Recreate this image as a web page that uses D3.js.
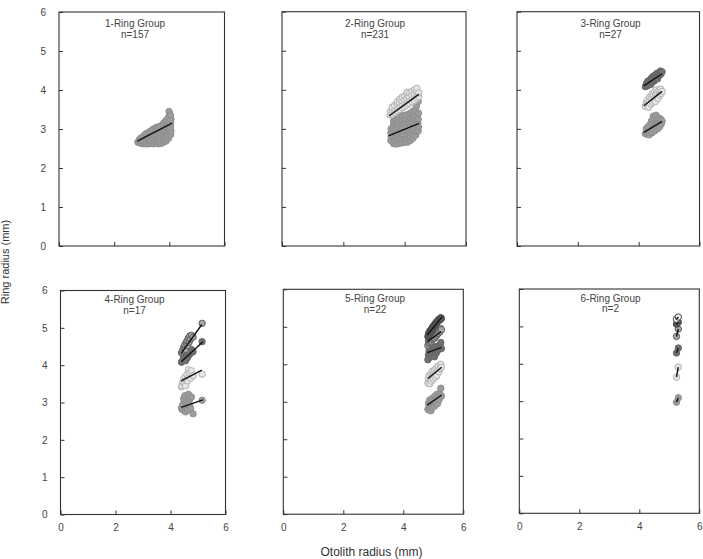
<!DOCTYPE html>
<html><head><meta charset="utf-8">
<script src="https://cdn.jsdelivr.net/npm/d3@7"></script>
<style>body{margin:0;background:#fff}svg{display:block;font-family:"Liberation Sans",Arial,sans-serif}</style>
</head><body><svg id="c" width="703" height="559"></svg>
<script>
// ---------- DATA ----------
const titles = ["1-Ring Group","2-Ring Group","3-Ring Group","4-Ring Group","5-Ring Group","6-Ring Group"];
const nLabels = ["n=157","n=231","n=27","n=17","n=22","n=2"];
const xTicks = [0,2,4,6];
const yTicks = [0,1,2,3,4,5,6];
const xTitle = "Otolith radius (mm)";
const yTitle = "Ring radius (mm)";

// 1-Ring group: [otolith radius, ring-1 radius]
const g1_ring1 = [[2.86,2.66],[2.90,2.66],[2.91,2.72],
 [2.98,2.63],[2.99,2.70],[2.97,2.77],
 [3.07,2.62],[3.06,2.69],[3.08,2.76],[3.07,2.82],
 [3.16,2.62],[3.15,2.68],[3.17,2.75],[3.16,2.82],[3.15,2.88],
 [3.25,2.62],[3.26,2.68],[3.24,2.76],[3.25,2.84],[3.26,2.92],
 [3.34,2.63],[3.33,2.70],[3.35,2.78],[3.34,2.86],[3.33,2.95],
 [3.43,2.62],[3.44,2.68],[3.42,2.77],[3.43,2.85],[3.44,2.93],[3.42,3.00],
 [3.52,2.63],[3.51,2.71],[3.53,2.80],[3.52,2.88],[3.51,2.96],[3.53,3.04],
 [3.61,2.62],[3.62,2.69],[3.60,2.78],[3.61,2.86],[3.62,2.95],[3.60,3.05],
 [3.70,2.63],[3.71,2.72],[3.69,2.80],[3.70,2.89],[3.71,2.98],[3.69,3.08],
 [3.79,2.66],[3.80,2.74],[3.78,2.83],[3.79,2.92],[3.80,3.01],[3.78,3.10],[3.80,3.16],
 [3.88,2.69],[3.87,2.78],[3.89,2.87],[3.88,2.96],[3.87,3.05],[3.89,3.14],[3.88,3.22],
 [3.97,2.76],[3.96,2.85],[3.98,2.94],[3.97,3.03],[3.96,3.12],[3.98,3.21],[3.97,3.30],[3.99,3.45],
 [4.05,2.86],[4.06,2.95],[4.04,3.05],[4.05,3.15],[4.06,3.25],[4.04,3.36]];
const g1_fits = [[2.84,2.69,4.10,3.15]];

// 2-Ring group
const g2_ring1 = [[3.55,2.70],[3.56,2.80],[3.55,2.90],[3.56,3.00],
 [3.64,2.62],[3.65,2.72],[3.64,2.82],[3.63,2.92],[3.65,3.02],[3.64,3.12],[3.64,3.20],
 [3.73,2.61],[3.72,2.70],[3.74,2.80],[3.73,2.90],[3.72,3.00],[3.74,3.10],[3.73,3.20],[3.73,3.26],
 [3.82,2.63],[3.83,2.73],[3.81,2.83],[3.82,2.93],[3.83,3.03],[3.81,3.13],[3.82,3.23],[3.82,3.30],
 [3.91,2.64],[3.90,2.74],[3.92,2.84],[3.91,2.94],[3.90,3.04],[3.92,3.14],[3.91,3.24],[3.91,3.33],
 [4.00,2.66],[4.01,2.76],[3.99,2.86],[4.00,2.96],[4.01,3.06],[3.99,3.16],[4.00,3.26],[4.00,3.35],
 [4.09,2.66],[4.08,2.76],[4.10,2.86],[4.09,2.96],[4.08,3.06],[4.10,3.16],[4.09,3.26],[4.09,3.36],
 [4.18,2.70],[4.19,2.80],[4.17,2.90],[4.18,3.00],[4.19,3.10],[4.17,3.20],[4.18,3.30],[4.18,3.40],
 [4.27,2.76],[4.26,2.86],[4.28,2.96],[4.27,3.06],[4.26,3.16],[4.28,3.26],[4.27,3.36],[4.27,3.45],
 [4.36,2.84],[4.37,2.94],[4.35,3.04],[4.36,3.14],[4.37,3.24],[4.35,3.34],[4.36,3.46],[4.38,3.58],
 [4.44,2.95],[4.45,3.05],[4.43,3.15],[4.44,3.25],[4.45,3.40],[4.44,3.70]];
const g2_ring2 = [[3.52,3.36],[3.53,3.44],
 [3.60,3.38],[3.61,3.47],[3.59,3.55],
 [3.68,3.42],[3.69,3.51],[3.67,3.60],
 [3.76,3.46],[3.77,3.55],[3.75,3.64],[3.76,3.70],
 [3.84,3.50],[3.85,3.59],[3.83,3.68],[3.84,3.76],
 [3.92,3.54],[3.93,3.63],[3.91,3.72],[3.92,3.81],
 [4.00,3.57],[4.01,3.66],[3.99,3.75],[4.00,3.84],
 [4.08,3.61],[4.09,3.70],[4.07,3.79],[4.08,3.88],[4.08,3.94],
 [4.16,3.65],[4.17,3.74],[4.15,3.83],[4.16,3.92],
 [4.24,3.69],[4.25,3.78],[4.23,3.87],[4.24,3.96],
 [4.32,3.73],[4.33,3.82],[4.31,3.91],[4.32,4.00],
 [4.40,3.78],[4.41,3.87],[4.39,3.96],[4.40,4.04],
 [4.46,3.82],[4.46,3.92]];
const g2_fits = [[3.47,2.82,4.47,3.14],[3.49,3.33,4.47,3.89]];

// 3-Ring group: otolith radius per fish and ring radii
const g3_R     = [4.22,4.25,4.28,4.30,4.33,4.35,4.37,4.40,4.42,4.44,4.46,4.48,4.50,4.52,4.53,4.55,4.57,4.58,4.60,4.62,4.64,4.66,4.68,4.70,4.72,4.74,4.77];
const g3_ring1 = [2.88,3.00,2.86,3.05,2.92,2.85,3.10,2.98,3.20,2.90,3.12,3.32,3.02,3.25,2.95,3.15,3.35,3.08,3.22,3.00,3.18,3.28,3.05,3.15,3.25,3.12,3.20];
const g3_ring2 = [3.58,3.68,3.62,3.75,3.55,3.70,3.82,3.64,3.78,3.90,3.68,3.85,3.74,3.95,3.80,3.70,3.88,4.00,3.82,3.92,3.78,3.98,3.86,3.95,4.02,3.90,3.96];
const g3_ring3 = [4.08,4.15,4.10,4.22,4.12,4.18,4.25,4.14,4.30,4.20,4.28,4.35,4.22,4.32,4.26,4.38,4.30,4.35,4.42,4.28,4.40,4.36,4.45,4.38,4.48,4.42,4.46];
const g3_fits = [[4.17,2.91,4.77,3.19],[4.17,3.59,4.77,3.96],[4.17,4.10,4.77,4.41]];

// 4-Ring group
const g4_R     = [4.40,4.42,4.45,4.48,4.50,4.52,4.55,4.57,4.60,4.62,4.65,4.68,4.70,4.73,4.76,4.82,5.15];
const g4_ring1 = [2.86,2.82,2.95,3.10,2.78,3.18,2.75,2.90,3.02,2.80,3.22,2.95,3.08,2.85,3.15,2.70,3.06];
const g4_ring2 = [3.42,3.45,3.55,3.62,3.50,3.68,3.45,3.60,3.75,3.58,3.88,3.70,3.80,3.65,3.85,3.72,3.76];
const g4_ring3 = [4.08,4.10,4.12,4.22,4.15,4.25,4.12,4.30,4.35,4.20,4.40,4.28,4.38,4.32,4.42,4.36,4.63];
const g4_ring4 = [4.33,4.36,4.40,4.48,4.45,4.55,4.42,4.60,4.65,4.52,4.72,4.62,4.78,4.70,4.80,4.75,5.12];
const g4_fits = [[4.39,2.87,5.18,3.07],[4.39,3.58,5.14,3.87],[4.39,4.09,5.18,4.63],[4.39,4.32,5.14,5.09]];

// 5-Ring group
const g5_R     = [4.82,4.84,4.86,4.88,4.90,4.92,4.94,4.96,4.98,5.00,5.02,5.04,5.06,5.08,5.10,5.12,5.14,5.16,5.19,5.22,5.25,5.27];
const g5_ring1 = [2.80,2.95,2.78,3.05,2.88,2.76,3.00,2.85,3.10,2.92,3.02,2.88,3.15,2.98,3.08,3.20,2.95,3.12,3.05,3.22,3.36,3.15];
const g5_ring2 = [3.50,3.62,3.70,3.48,3.58,3.75,3.55,3.68,3.82,3.60,3.72,3.85,3.65,3.78,3.90,3.70,3.82,3.95,3.80,3.88,4.00,3.92];
const g5_ring3 = [4.12,4.25,4.35,4.18,4.30,4.40,4.22,4.32,4.45,4.28,4.38,4.20,4.35,4.42,4.30,4.48,4.38,4.45,4.40,4.50,4.58,4.42];
const g5_ring4 = [4.50,4.62,4.55,4.68,4.58,4.72,4.60,4.65,4.75,4.68,4.78,4.70,4.80,4.74,4.85,4.78,4.88,4.82,4.90,4.86,4.95,4.92];
const g5_ring5 = [4.74,4.82,4.78,4.88,4.85,4.92,4.90,4.97,4.95,5.02,5.00,5.05,5.08,5.06,5.12,5.10,5.16,5.15,5.20,5.18,5.24,5.22];
const g5_fits = [[4.80,2.91,5.28,3.18],[4.82,3.62,5.28,3.92],[4.80,4.31,5.28,4.45],[4.80,4.60,5.26,4.87],[4.80,4.78,5.30,5.27]];

// 6-Ring group
const g6_R     = [5.24,5.30];
const g6_ring1 = [2.97,3.09];
const g6_ring2 = [3.64,3.91];
const g6_ring3 = [4.29,4.42];
const g6_ring4 = [4.73,4.93];
const g6_ring5 = [5.06,5.11];
const g6_ring6 = [5.19,5.25];

// ---------- STYLE / LAYOUT ----------
const ringStyle = {
  1:{fill:"#9c9c9c",stroke:"#8e8e8e"},
  2:{fill:"#e6e6e6",stroke:"#b2b2b2"},
  3:{fill:"#727272",stroke:"#666666"},
  4:{fill:"#a6a6a6",stroke:"#5e5e5e"},
  5:{fill:"#5a5a5a",stroke:"#4a4a4a"},
  6:{fill:"#f2f2f2",stroke:"#444444"}
};
const boxes = [
 {l:59,r:224.5,t:12,b:246,tx:135,row:0,yLab:true,xLab:false},
 {l:282,r:466,t:11.7,b:246,tx:375,row:0,yLab:false,xLab:false},
 {l:517,r:699.5,t:11.7,b:246,tx:610.5,row:0,yLab:false,xLab:false},
 {l:60.5,r:225.5,t:290.5,b:514.5,tx:134.5,row:1,yLab:true,xLab:true},
 {l:283.3,r:463.3,t:289.3,b:514.2,tx:375,row:1,yLab:false,xLab:true},
 {l:519.3,r:699.3,t:289,b:513.3,tx:610.5,row:1,yLab:false,xLab:true}
];

const zipR = (R, r) => d3.zip(R, r);
const panels = [
 {series:[[1,g1_ring1]], fits:[[1,g1_fits[0]]]},
 {series:[[1,g2_ring1],[2,g2_ring2]], fits:g2_fits.map((f,i)=>[i+1,f])},
 {series:[[1,zipR(g3_R,g3_ring1)],[2,zipR(g3_R,g3_ring2)],[3,zipR(g3_R,g3_ring3)]], fits:g3_fits.map((f,i)=>[i+1,f])},
 {series:[[1,zipR(g4_R,g4_ring1)],[2,zipR(g4_R,g4_ring2)],[3,zipR(g4_R,g4_ring3)],[4,zipR(g4_R,g4_ring4)]], fits:g4_fits.map((f,i)=>[i+1,f])},
 {series:[[1,zipR(g5_R,g5_ring1)],[2,zipR(g5_R,g5_ring2)],[3,zipR(g5_R,g5_ring3)],[4,zipR(g5_R,g5_ring4)],[5,zipR(g5_R,g5_ring5)]], fits:g5_fits.map((f,i)=>[i+1,f])},
 {series:[g6_ring1,g6_ring2,g6_ring3,g6_ring4,g6_ring5,g6_ring6].map((r,i)=>[i+1,zipR(g6_R,r)]),
  fits:[g6_ring1,g6_ring2,g6_ring3,g6_ring4,g6_ring5,g6_ring6].map((r,i)=>[i+1,[g6_R[0],r[0],g6_R[1],r[1]]])}
];

const svg = d3.select("#c");
const textCol = "#444";

panels.forEach((p, i) => {
  const bx = boxes[i];
  const x = d3.scaleLinear().domain([0,6]).range([bx.l, bx.r]);
  const y = d3.scaleLinear().domain([0,6]).range([bx.b, bx.t]);
  const g = svg.append("g");

  // axes with inside ticks
  const ya = g.append("g").attr("transform",`translate(${bx.l},0)`)
    .call(d3.axisLeft(y).tickValues(yTicks).tickSize(-4).tickPadding(13)
      .tickFormat(bx.yLab ? d3.format("d") : ""));
  const xa = g.append("g").attr("transform",`translate(0,${bx.b})`)
    .call(d3.axisBottom(x).tickValues(xTicks).tickSize(-4).tickPadding(9.5)
      .tickFormat(bx.xLab ? d3.format("d") : ""));
  [ya, xa].forEach(a => {
    a.select(".domain").remove();
    a.selectAll("line").attr("stroke","#333");
    a.selectAll("text").attr("fill",textCol).style("font-size","10px")
      .style("font-family",'"Liberation Sans",Arial,sans-serif');
  });

  // frame
  g.append("rect").attr("x",bx.l).attr("y",bx.t).attr("width",bx.r-bx.l).attr("height",bx.b-bx.t)
    .attr("fill","none").attr("stroke","#333").attr("stroke-width",1.1);

  // points
  p.series.forEach(([ring, pts]) => {
    const st = ringStyle[ring];
    g.append("g").selectAll("circle").data(pts).join("circle")
      .attr("cx", d => x(d[0])).attr("cy", d => y(d[1])).attr("r", 3.2)
      .attr("fill", st.fill).attr("stroke", st.stroke).attr("stroke-width", 1);
  });

  // regression lines
  p.fits.forEach(([ring, f]) => {
    g.append("line").attr("x1",x(f[0])).attr("y1",y(f[1])).attr("x2",x(f[2])).attr("y2",y(f[3]))
      .attr("stroke","#111").attr("stroke-width",1.4);
  });

  // titles
  const t1 = bx.row === 0 ? 15.3 : 12.8;
  g.append("text").attr("x",bx.tx).attr("y",bx.t+t1).attr("text-anchor","middle")
    .attr("fill",textCol).style("font-size","10px").text(titles[i]);
  g.append("text").attr("x",bx.tx).attr("y",bx.t+t1+10.5).attr("text-anchor","middle")
    .attr("fill",textCol).style("font-size","10px").text(nLabels[i]);
});

svg.append("text").attr("x",371.5).attr("y",556).attr("text-anchor","middle")
  .attr("fill","#333").style("font-size","12px").text(xTitle);
svg.append("text").attr("transform","translate(9,262) rotate(-90)").attr("text-anchor","middle")
  .attr("fill","#333").style("font-size","11px").text(yTitle);
</script></body></html>
